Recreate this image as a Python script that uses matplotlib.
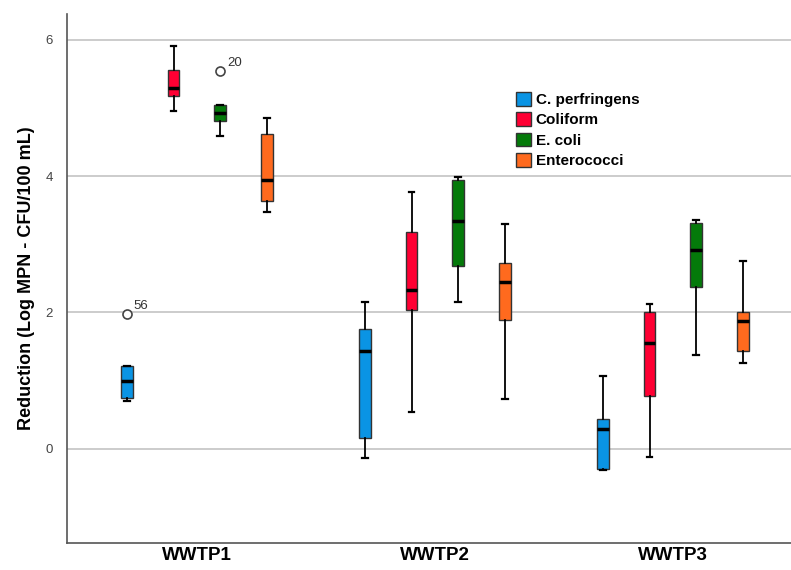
import matplotlib.pyplot as plt
from matplotlib.patches import Patch

plt.rcParams['font.family'] = ['Liberation Sans', 'DejaVu Sans']

plants = ["WWTP1", "WWTP2", "WWTP3"]
organisms = ["C. perfringens", "Coliform", "E. coli", "Enterococci"]
colors = ["#0a94e4", "#ff0033", "#047a0a", "#ff6a1e"]

# per plant, per organism: whislo, q1, med, q3, whishi
stats_vals = {
    "WWTP1": [
        (0.70, 0.74, 1.00, 1.22, 1.22),
        (4.96, 5.18, 5.29, 5.56, 5.91),
        (4.59, 4.81, 4.93, 5.04, 5.04),
        (3.48, 3.64, 3.94, 4.62, 4.86),
    ],
    "WWTP2": [
        (-0.14, 0.16, 1.43, 1.75, 2.15),
        (0.54, 2.03, 2.33, 3.18, 3.76),
        (2.15, 2.68, 3.34, 3.94, 3.99),
        (0.73, 1.89, 2.45, 2.72, 3.30),
    ],
    "WWTP3": [
        (-0.31, -0.30, 0.29, 0.43, 1.07),
        (-0.13, 0.78, 1.55, 2.01, 2.12),
        (1.37, 2.38, 2.91, 3.31, 3.36),
        (1.25, 1.43, 1.87, 2.01, 2.76),
    ],
}
# outliers: (plant, organism index, value, case label)
outliers = [("WWTP1", 0, 1.97, "56"), ("WWTP1", 2, 5.54, "20")]

offsets = [-0.3, -0.1, 0.1, 0.3]
offsets = [o * 0.985 for o in offsets]

fig = plt.figure(figsize=(7.91, 5.70), dpi=100)
ax = fig.add_axes([0.0847, 0.0468, 0.9153, 0.9286])

for gi, plant in enumerate(plants):
    for oi, org in enumerate(organisms):
        lo, q1, med, q3, hi = stats_vals[plant][oi]
        fl = [v for p, k, v, _ in outliers if p == plant and k == oi]
        st = [dict(whislo=lo, q1=q1, med=med, q3=q3, whishi=hi, fliers=fl)]
        ax.bxp(st, positions=[gi + offsets[oi]], widths=0.05, patch_artist=True,
               boxprops=dict(facecolor=colors[oi], edgecolor="#333333", linewidth=1.0),
               medianprops=dict(color="black", linewidth=2.5),
               whiskerprops=dict(color="black", linewidth=1.3),
               capprops=dict(color="black", linewidth=1.6),
               capwidths=0.025,
               flierprops=dict(marker="o", markerfacecolor="white",
                               markeredgecolor="#444444", markersize=6.5,
                               markeredgewidth=1.2),
               manage_ticks=False, zorder=3)

for p, k, v, lab in outliers:
    x = plants.index(p) + offsets[k]
    ax.annotate(lab, (x, v), xytext=(5, 4), textcoords="offset points",
                fontsize=9.5, color="#333333")

ax.set_xlim(-0.546, 2.496)
ax.set_ylim(-1.39, 6.38)
ax.set_yticks([0, 2, 4, 6])
ax.set_yticklabels(["0", "2", "4", "6"], fontsize=9.5, color="#444444")
ax.set_xticks(range(len(plants)))
ax.set_xticklabels(plants, fontsize=13.5, fontweight="bold")
ax.tick_params(axis="x", length=0, pad=3)
ax.tick_params(axis="y", length=0, pad=10)
ax.yaxis.grid(True, color="#c8c8c8", linewidth=1.3)
ax.set_axisbelow(True)
for s in ["top", "right"]:
    ax.spines[s].set_visible(False)
for s in ["left", "bottom"]:
    ax.spines[s].set_color("#555555")
    ax.spines[s].set_linewidth(1.2)
ax.set_ylabel("Reduction (Log MPN - CFU/100 mL)", fontsize=13, fontweight="bold",
              labelpad=8)

handles = [Patch(facecolor=c, edgecolor="#333333", label=o) for c, o in zip(colors, organisms)]
ax.legend(handles=handles, loc="upper left", bbox_to_anchor=(0.620, 0.853),
          frameon=False, prop=dict(weight="bold", size=11),
          handlelength=1.0, handleheight=1.0, handletextpad=0.3,
          labelspacing=0.35, borderaxespad=0, borderpad=0)

fig.savefig("out.png", dpi=100)
